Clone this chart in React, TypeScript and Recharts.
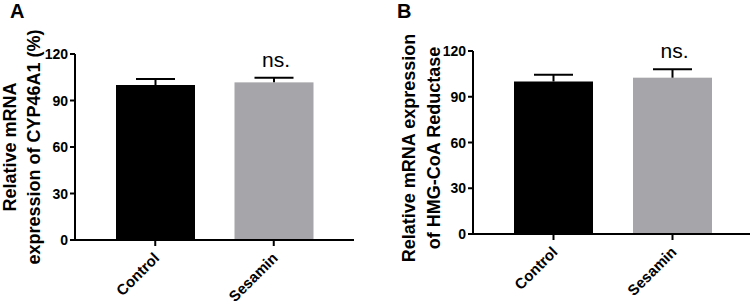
import React from 'react'
import { BarChart, Bar, XAxis, YAxis } from 'recharts'

// values
const categories = ['Control', 'Sesamin']
const cypMeans = [100, 101.7]
const cypErrors = [3.9, 3.0]
const hmgMeans = [100, 102.5]
const hmgErrors = [4.5, 5.5]
const significance = ['', 'ns.']
const yTicks = [0, 30, 60, 90, 120]
const barColors = ['#000000', '#a6a5aa']

const FONT = '"Liberation Sans", Arial, Helvetica, sans-serif'

const buildRows = (means: number[], errors: number[]) =>
  categories.map((name, i) => ({
    name,
    mean: means[i],
    err: errors[i],
    sig: significance[i],
    color: barColors[i],
  }))

const cypData = buildRows(cypMeans, cypErrors)
const hmgData = buildRows(hmgMeans, hmgErrors)

// bar + upper error whisker + significance mark, scaled from the bar's own height
const BarWithError = (props: any) => {
  const { x, y, width, height, payload } = props
  const pxPerUnit = height / payload.mean
  const top = y - payload.err * pxPerUnit
  const cx = x + width / 2
  return (
    <g>
      <rect x={x} y={y} width={width} height={height} fill={payload.color} />
      <line x1={cx} x2={cx} y1={y} y2={top} stroke="#000" strokeWidth={2} />
      <line x1={cx - 19.5} x2={cx + 19.5} y1={top} y2={top} stroke="#000" strokeWidth={2} />
      {payload.sig ? (
        <text x={cx + 2} y={top - 11} textAnchor="middle" fontFamily={FONT} fontSize={21} fill="#000">
          {payload.sig}
        </text>
      ) : null}
    </g>
  )
}

const XTick = (props: any) => {
  const { x, y, payload } = props
  const tx = x + 5
  const ty = y + 11
  return (
    <text
      x={tx}
      y={ty}
      transform={`rotate(-45, ${tx}, ${ty})`}
      textAnchor="end"
      fontFamily={FONT}
      fontWeight="bold"
      fontSize={15}
      fill="#000"
    >
      {payload.value}
    </text>
  )
}

const YTick = (props: any) => {
  const { x, y, payload } = props
  return (
    <text x={x} y={y} dy="0.36em" textAnchor="end" fontFamily={FONT} fontWeight="bold" fontSize={14} fill="#000">
      {payload.value}
    </text>
  )
}

interface PanelProps {
  data: any[]
  lines: string[]
  lineX: [number, number]
  centerY: number
  top: number
  right: number
  yWidth: number
  xHeight: number
  pad: { left: number; right: number }
}

function Panel({ data, lines, lineX, centerY, top, right, yWidth, xHeight, pad }: PanelProps) {
  return (
    <BarChart width={377} height={303} data={data} margin={{ top, right, bottom: 0, left: 0 }}>
      <XAxis
        dataKey="name"
        height={xHeight}
        padding={pad}
        axisLine={{ stroke: '#000', strokeWidth: 2 }}
        tickLine={{ stroke: '#000', strokeWidth: 2 }}
        tickSize={6}
        tick={<XTick />}
        interval={0}
      />
      <YAxis
        width={yWidth}
        domain={[0, 120]}
        ticks={yTicks}
        axisLine={{ stroke: '#000', strokeWidth: 2 }}
        tickLine={{ stroke: '#000', strokeWidth: 2 }}
        tickSize={5}
        tickMargin={2}
        tick={<YTick />}
        label={{
          content: () => (
            <g>
              {lines.map((t, i) => (
                <text
                  key={i}
                  x={lineX[i]}
                  y={centerY}
                  transform={`rotate(-90, ${lineX[i]}, ${centerY})`}
                  textAnchor="middle"
                  fontFamily={FONT}
                  fontWeight="bold"
                  fontSize={18}
                  fill="#000"
                >
                  {t}
                </text>
              ))}
            </g>
          ),
        }}
      />
      <Bar dataKey="mean" barSize={79} shape={<BarWithError />} isAnimationActive={false} />
    </BarChart>
  )
}

const letterStyle: React.CSSProperties = {
  position: 'absolute',
  top: 1,
  fontFamily: FONT,
  fontWeight: 'bold',
  fontSize: 20,
  lineHeight: '20px',
  color: '#000',
}

export default function App() {
  return (
    <div style={{ position: 'absolute', left: 0, top: 0, width: 754, height: 303, background: '#fff' }}>
      <div style={{ position: 'absolute', left: 0, top: 0 }}>
        <Panel
          data={cypData}
          lines={['Relative mRNA', 'expression of CYP46A1 (%)']}
          lineX={[16, 40]}
          centerY={147}
          top={54}
          right={23}
          yWidth={75}
          xHeight={63}
          pad={{ left: 21, right: 21 }}
        />
      </div>
      <div style={{ position: 'absolute', left: 377, top: 0 }}>
        <Panel
          data={hmgData}
          lines={['Relative mRNA expression', 'of HMG-CoA Reductase']}
          lineX={[37.5, 62.5]}
          centerY={148}
          top={51}
          right={4}
          yWidth={96}
          xHeight={69}
          pad={{ left: 21, right: 18 }}
        />
      </div>
      <div style={{ ...letterStyle, left: 10 }}>A</div>
      <div style={{ ...letterStyle, left: 397 }}>B</div>
    </div>
  )
}
